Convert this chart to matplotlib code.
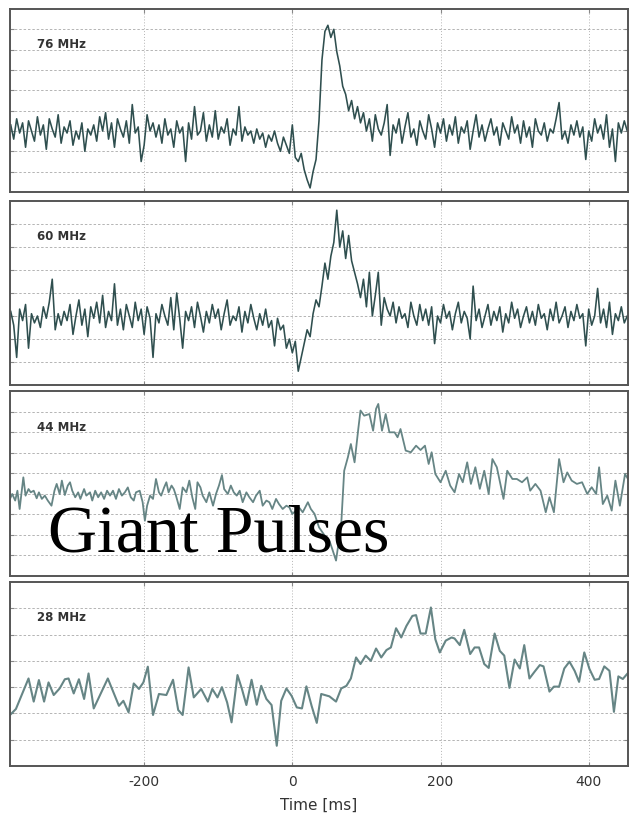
import numpy as np
import matplotlib
matplotlib.use("Agg")
import matplotlib.pyplot as plt

plt.rcParams["axes.unicode_minus"] = False

# dense channels: regular sampling, start time and step in ms
T0 = -380
DT = 4

flux_76 = [
    3.3, 2.6, 3.6, 2.9, 3.4, 2.2, 3.5, 3.0, 2.5, 3.7,
    2.8, 3.3, 2.1, 3.6, 3.1, 2.7, 3.8, 2.4, 3.2, 2.9,
    3.5, 2.3, 3.0, 2.6, 3.4, 2.0, 3.1, 2.8, 3.3, 2.5,
    3.7, 3.0, 3.9, 2.6, 3.4, 2.2, 3.6, 3.1, 2.7, 3.5,
    2.4, 4.3, 2.9, 3.2, 1.5, 2.3, 3.8, 3.0, 3.4, 2.7,
    3.3, 2.4, 3.6, 2.8, 3.1, 2.2, 3.5, 2.9, 3.2, 1.5,
    3.4, 2.6, 4.2, 2.8, 3.0, 3.9, 2.5, 3.3, 2.7, 4.0,
    2.6, 3.2, 2.9, 3.6, 2.3, 3.1, 2.8, 4.2, 2.5, 3.2,
    2.8, 3.0, 2.4, 3.1, 2.6, 2.9, 2.2, 2.8, 2.5, 3.0,
    2.4, 2.0, 2.7, 2.3, 1.9, 3.3, 1.7, 1.5, 1.9, 1.1,
    0.6, 0.2, 1.0, 1.6, 3.5, 6.5, 7.9, 8.2, 7.6, 8.0,
    6.9, 6.2, 5.2, 4.8, 4.0, 4.5, 3.6, 4.2, 3.4, 3.9,
    3.0, 3.6, 2.5, 3.8, 3.1, 2.8, 3.4, 4.3, 1.8, 3.3,
    2.9, 3.6, 2.4, 3.2, 3.9, 2.7, 3.1, 2.3, 3.5, 3.0,
    2.6, 3.8, 3.1, 2.2, 3.4, 2.9, 3.6, 2.5, 3.3, 2.8,
    3.7, 2.4, 3.2, 2.9, 3.5, 2.1, 3.0, 3.8, 2.7, 3.3,
    2.5, 3.1, 3.6, 2.8, 3.2, 2.3, 3.4, 3.0, 2.6, 3.7,
    2.9, 3.3, 2.4, 3.5, 2.7, 3.2, 2.2, 3.6, 3.0, 2.8,
    3.4, 2.5, 3.1, 2.9, 3.6, 4.4, 2.6, 3.0, 2.4, 3.3,
    2.8, 3.5, 2.7, 3.2, 1.6, 3.0, 2.5, 3.6, 2.9, 3.3,
    2.6, 3.8, 2.2, 3.1, 1.5, 3.4, 2.9, 3.5, 3.0,
]

flux_60 = [
    3.2, 2.6, 1.2, 3.3, 2.8, 3.5, 1.6, 3.1, 2.7, 3.0,
    2.5, 3.4, 2.9, 3.6, 4.6, 2.4, 3.1, 2.6, 3.2, 2.8,
    3.5, 2.2, 3.0, 3.7, 2.6, 3.3, 2.1, 3.4, 2.9, 3.6,
    2.7, 3.9, 2.5, 3.2, 2.8, 4.4, 2.6, 3.3, 2.4, 3.5,
    3.0, 2.5, 3.6, 2.8, 3.3, 2.2, 3.4, 2.9, 1.2, 3.1,
    2.7, 3.5, 3.0, 2.6, 3.8, 2.4, 4.0, 2.9, 1.6, 3.2,
    2.8, 3.4, 2.5, 3.6, 3.0, 2.3, 3.2, 2.7, 3.5, 2.9,
    3.3, 2.4, 3.1, 3.7, 2.6, 3.0, 2.8, 3.4, 2.3, 3.2,
    2.7, 3.5, 2.9, 2.4, 3.1, 2.6, 3.3, 2.5, 2.8, 1.7,
    2.9, 2.4, 2.6, 1.6, 2.0, 1.4, 1.9, 0.6, 1.2, 1.8,
    2.4, 2.1, 3.1, 3.7, 3.4, 4.3, 5.3, 4.6, 5.6, 6.2,
    7.6, 6.0, 6.7, 5.5, 6.5, 5.4, 4.9, 4.4, 3.8, 4.6,
    3.4, 4.9, 3.0, 3.9, 4.9, 2.6, 3.8, 3.3, 3.0, 3.6,
    2.7, 3.4, 2.9, 3.1, 2.5, 3.6, 3.0, 2.6, 3.5, 2.8,
    3.3, 2.6, 3.4, 1.8, 3.0, 2.7, 3.5, 2.9, 3.2, 2.4,
    3.1, 3.6, 2.7, 3.2, 2.9, 2.0, 4.3, 2.8, 3.3, 2.5,
    3.0, 3.5, 2.6, 3.2, 2.8, 3.4, 2.3, 3.1, 2.7, 3.6,
    2.9, 3.3, 2.5, 3.0, 3.4, 2.7, 3.2, 2.6, 3.5, 2.9,
    3.1, 2.4, 3.3, 2.8, 3.6, 2.7, 3.0, 3.4, 2.5, 3.2,
    2.8, 3.5, 2.9, 3.1, 1.7, 3.3, 2.6, 3.0, 4.2, 2.7,
    3.3, 2.5, 3.6, 2.2, 3.1, 2.8, 3.4, 2.7, 3.0,
]

# coarser channels: (time ms, flux) vertices
time_44 = [
    -381, -378, -374, -371, -368, -363, -360, -356, -353, -349,
    -345, -342, -338, -334, -330, -325, -321, -318, -314, -311,
    -307, -303, -300, -297, -293, -289, -286, -281, -278, -273,
    -270, -266, -262, -258, -254, -250, -246, -242, -238, -234,
    -230, -226, -222, -218, -214, -211, -206, -202, -199, -196,
    -192, -188, -184, -180, -177, -173, -170, -167, -163, -160,
    -157, -152, -148, -143, -139, -135, -131, -128, -124, -121,
    -116, -112, -107, -103, -99, -95, -92, -87, -83, -79,
    -75, -71, -67, -62, -58, -53, -49, -44, -40, -35,
    -31, -27, -22, -18, -13, -8, -4, 0, 5, 9,
    14, 21, 25, 30, 36, 43, 50, 54, 59, 66,
    70, 75, 79, 84, 89, 92, 97, 104, 109, 113,
    116, 121, 126, 131, 138, 142, 146, 153, 160, 167,
    173, 179, 184, 188, 193, 200, 207, 213, 219, 225,
    230, 236, 241, 247, 253, 259, 265, 270, 276, 285,
    290, 297, 303, 310, 317, 321, 328, 335, 342, 347,
    353, 360, 366, 371, 377, 384, 391, 398, 404, 410,
    414, 419, 425, 431, 436, 442, 449, 453,
]
flux_44 = [
    3.75, 3.99, 3.67, 4.15, 3.26, 4.80, 3.91, 4.23, 4.07, 4.15,
    3.78, 4.07, 3.75, 3.91, 3.67, 3.42, 4.15, 4.48, 3.99, 4.64,
    3.94, 4.40, 4.56, 4.15, 3.83, 4.07, 3.75, 4.23, 3.91, 4.07,
    3.67, 4.15, 3.83, 4.07, 3.75, 4.15, 3.91, 4.15, 3.75, 4.23,
    3.91, 4.07, 4.31, 3.83, 3.67, 4.07, 4.15, 3.59, 2.69, 3.42,
    3.91, 3.75, 4.72, 4.07, 3.91, 4.31, 4.56, 4.07, 4.40, 4.23,
    3.91, 3.26, 4.31, 4.07, 4.64, 3.83, 3.26, 4.56, 4.31, 3.91,
    3.59, 4.07, 3.42, 3.99, 4.40, 4.91, 4.23, 3.99, 4.40, 4.07,
    3.91, 4.15, 3.59, 4.07, 3.83, 3.59, 3.91, 4.15, 3.42, 3.67,
    3.59, 3.26, 3.75, 3.50, 3.26, 3.42, 3.34, 3.02, 3.18, 3.34,
    3.10, 3.59, 3.26, 3.02, 2.37, 2.00, 1.72, 1.30, 0.75, 2.53,
    5.12, 5.78, 6.42, 5.53, 7.15, 8.05, 7.80, 7.88, 7.07, 8.13,
    8.37, 7.07, 7.88, 6.99, 6.99, 6.75, 7.15, 6.10, 6.02, 6.34,
    6.13, 6.34, 5.45, 6.02, 4.96, 4.56, 5.12, 4.40, 4.07, 4.96,
    4.56, 5.53, 4.48, 5.29, 4.24, 5.12, 3.99, 5.69, 5.29, 3.75,
    5.12, 4.72, 4.72, 4.56, 4.80, 4.15, 4.48, 4.15, 3.10, 3.83,
    3.10, 5.69, 4.56, 5.04, 4.64, 4.48, 4.56, 3.99, 4.32, 3.99,
    5.29, 3.50, 3.91, 3.18, 4.64, 3.42, 4.96, 4.72,
]

time_28 = [
    -381, -373, -356, -349, -342, -335, -329, -322, -314, -307,
    -302, -295, -288, -281, -275, -268, -249, -234, -228, -221,
    -214, -207, -201, -195, -188, -180, -170, -161, -154, -148,
    -140, -133, -123, -114, -108, -101, -95, -88, -82, -74,
    -68, -62, -55, -48, -42, -35, -28, -21, -15, -8,
    -1, 6, 13, 19, 26, 33, 39, 50, 59, 66,
    73, 79, 86, 92, 99, 106, 113, 120, 127, 133,
    140, 147, 154, 162, 167, 173, 180, 187, 193, 199,
    207, 215, 219, 226, 232, 240, 246, 252, 259, 265,
    273, 280, 286, 293, 300, 307, 313, 320, 327, 334,
    339, 347, 353, 360, 367, 374, 381, 387, 394, 401,
    408, 414, 421, 428, 434, 440, 446, 453,
]
flux_28 = [
    1.94, 2.17, 3.33, 2.45, 3.27, 2.45, 3.18, 2.70, 2.95, 3.30,
    3.33, 2.76, 3.30, 2.55, 3.52, 2.19, 3.33, 2.29, 2.48, 2.04,
    3.14, 2.93, 3.18, 3.78, 1.94, 2.74, 2.70, 3.28, 2.13, 1.94,
    3.75, 2.61, 2.93, 2.45, 2.93, 2.61, 3.00, 2.42, 1.66, 3.46,
    2.93, 2.32, 3.28, 2.33, 3.05, 2.55, 2.32, 0.77, 2.48, 2.95,
    2.67, 2.23, 2.19, 3.03, 2.29, 1.64, 2.74, 2.65, 2.45, 2.95,
    3.05, 3.33, 4.13, 3.88, 4.20, 4.00, 4.47, 4.13, 4.41, 4.51,
    5.24, 4.89, 5.33, 5.71, 5.74, 5.04, 5.04, 6.03, 4.82, 4.32,
    4.77, 4.89, 4.85, 4.60, 5.18, 4.26, 4.51, 4.51, 3.88, 3.73,
    5.04, 4.38, 4.20, 2.97, 4.05, 3.71, 4.60, 3.33, 3.59, 3.84,
    3.79, 2.83, 3.02, 3.02, 3.71, 3.97, 3.62, 3.20, 4.32, 3.69,
    3.28, 3.31, 3.79, 3.62, 2.06, 3.41, 3.31, 3.54,
]

labels = ["76 MHz", "60 MHz", "44 MHz", "28 MHz"]
x_ticks = [-200, 0, 200, 400]


def make_figure():
    fig = plt.figure(figsize=(6.31, 8.20), dpi=100)
    left, width = 10 / 631, 618 / 631
    panels = [(10, 193, 9), (202, 386, 8), (392, 577, 9), (583, 767, 7)]

    t_dense = T0 + DT * np.arange(len(flux_76))
    series = [
        (t_dense, flux_76, "#2f4f4f", 1.15),
        (t_dense, flux_60, "#2f4f4f", 1.15),
        (time_44, flux_44, "#668585", 1.3),
        (time_28, flux_28, "#668585", 1.5),
    ]

    axes = []
    for (top, bottom, n), (t, f, color, lw), label in zip(panels, series, labels):
        ax = fig.add_axes([left, 1 - bottom / 820, width, (bottom - top) / 820])
        ax.plot(t, f, color=color, lw=lw)
        ax.set_xlim(-381, 453)
        ax.set_ylim(0, n)
        ax.set_yticks(range(1, n))
        ax.set_xticks(x_ticks)
        ax.yaxis.grid(True, color="#b4b4b4", lw=0.7, linestyle=(0, (2.5, 2)))
        ax.xaxis.grid(True, color="#b4b4b4", lw=0.7, linestyle=(0, (1, 2)))
        ax.tick_params(direction="in", length=3, color="#888888",
                       top=True, right=True, labelleft=False)
        for spine in ax.spines.values():
            spine.set_color("#555555")
            spine.set_linewidth(1.4)
        ax.text(0.044, 0.81, label, transform=ax.transAxes, fontsize=8.5,
                color="#333333", va="center", ha="left", fontweight="semibold")
        axes.append(ax)

    for ax in axes[:-1]:
        ax.tick_params(labelbottom=False)
    axes[-1].tick_params(axis="x", labelsize=10, labelcolor="#333333", pad=6)
    axes[-1].set_xlabel("Time [ms]", fontsize=11, color="#333333", labelpad=6)

    fig.text(48 / 631, 1 - 552 / 820, "Giant Pulses", family="Liberation Serif",
             fontsize=49, color="black", va="baseline", ha="left")

    fig.savefig("out.png", dpi=100)
    plt.close(fig)


if __name__ == "__main__":
    make_figure()
